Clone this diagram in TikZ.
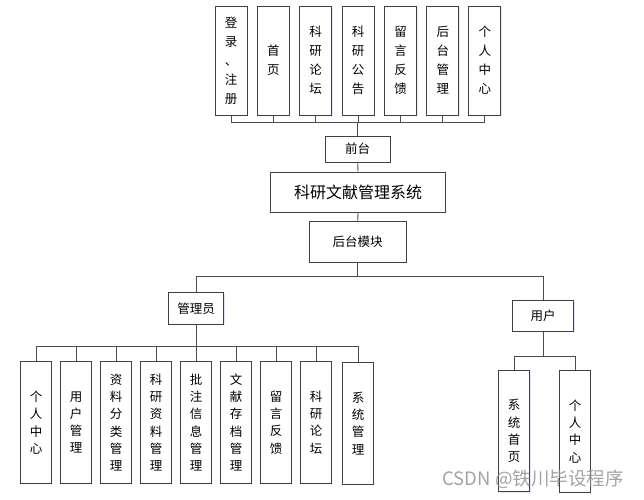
\documentclass[tikz,border=0pt]{standalone}
\usepackage{fontspec}
\setmainfont{Noto Sans CJK SC}
\usetikzlibrary{shadows}
\begin{document}
\begin{tikzpicture}[x=1pt,y=-1pt,
  box/.style={draw=black!75, line width=0.9pt, fill=white, inner sep=0pt, align=center,
    drop shadow={shadow xshift=1pt, shadow yshift=-1pt, fill=blue!20, opacity=0.5}},
  topbox/.style={box, minimum width=32pt, minimum height=109pt, font=\fontsize{12.5}{19}\selectfont},
  botbox/.style={box, minimum width=30.7pt, minimum height=121.6pt, font=\fontsize{12.5}{17.3}\selectfont},
  hbox/.style={box, font=\fontsize{12.5}{14}\selectfont},
  conn/.style={draw=black!70, line width=0.9pt}
]
\useasboundingbox (0,0) rectangle (644,499);
% top row
\node[topbox] (t1) at (231,60.5) {登\\录\\、\\注\\册};
\node[topbox] (t2) at (273.3,60.5) {首\\页};
\node[topbox] (t3) at (315.5,60.5) {科\\研\\论\\坛};
\node[topbox] (t4) at (358.2,60.5) {科\\研\\公\\告};
\node[topbox] (t5) at (400.5,60.5) {留\\言\\反\\馈};
\node[topbox] (t6) at (442.8,60.5) {后\\台\\管\\理};
\node[topbox] (t7) at (484.8,60.5) {个\\人\\中\\心};
\coordinate (tj) at (357.7,122.7);
\node[hbox, minimum width=65pt, minimum height=26pt] (front) at (357.7,149.2) {前台};
\node[box, minimum width=174.6pt, minimum height=40.3pt, font=\fontsize{16}{18}\selectfont] (sys) at (358,192.2) {科研文献管理系统};
\node[hbox, minimum width=96.7pt, minimum height=40.3pt] (back) at (357.7,241.8) {后台模块};
\coordinate (bj) at (357.7,276.7);
\node[hbox, minimum width=55.4pt, minimum height=31.3pt] (admin) at (196,308.3) {管理员};
\node[hbox, minimum width=61.4pt, minimum height=30.6pt] (user) at (543,316) {用户};
\coordinate (aj) at (196,346.7);
\coordinate (uj) at (543,356);
% admin children
\node[botbox] (b1) at (36,422.5) {个\\人\\中\\心};
\node[botbox] (b2) at (76,422.5) {用\\户\\管\\理};
\node[botbox] (b3) at (116,422.5) {资\\料\\分\\类\\管\\理};
\node[botbox] (b4) at (156,422.5) {科\\研\\资\\料\\管\\理};
\node[botbox] (b5) at (196,422.5) {批\\注\\信\\息\\管\\理};
\node[botbox] (b6) at (236,422.5) {文\\献\\存\\档\\管\\理};
\node[botbox] (b7) at (276,422.5) {留\\言\\反\\馈};
\node[botbox] (b8) at (316,422.5) {科\\研\\论\\坛};
\node[botbox] (b9) at (358,423.2) {系\\统\\管\\理};
% user children
\node[botbox] (u1) at (514.2,431) {系\\统\\首\\页};
\node[botbox] (u2) at (575,431.3) {个\\人\\中\\心};
% connectors
\foreach \n in {t1,t2,t3,t4,t5,t6,t7} \draw[conn] (\n.south) |- (tj);
\draw[conn] (tj) -- (front.north);
\draw[conn] (front.south) -- (sys.north);
\draw[conn] (sys.south) -- (back.north);
\draw[conn] (back.south) -- (bj);
\draw[conn] (bj) -| (admin.north);
\draw[conn] (bj) -| (user.north);
\draw[conn] (admin.south) -- (aj);
\foreach \n in {b1,b2,b3,b4,b5,b6,b7,b8,b9} \draw[conn] (aj) -| (\n.north);
\draw[conn] (user.south) -- (uj);
\foreach \n in {u1,u2} \draw[conn] (uj) -| (\n.north);
% watermark
\node[text=black!45, opacity=0.8, font=\fontsize{18.5}{20}\selectfont, inner sep=0pt] (wm) at (533,479) {CSDN @铁川毕设程序};
\end{tikzpicture}
\end{document}
